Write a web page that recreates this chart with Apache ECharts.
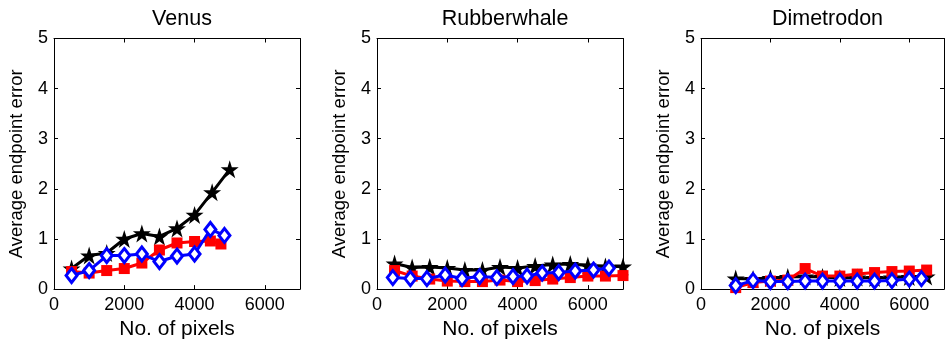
<!DOCTYPE html>
<html>
<head>
<meta charset="utf-8">
<script src="https://cdn.jsdelivr.net/npm/echarts@6/dist/echarts.min.js"></script>
<style>
html,body{margin:0;padding:0;background:#fff;}
#chart{width:948px;height:345px;}
</style>
</head>
<body>
<div id="chart"></div>
<script>
// Panel titles
const panelTitles = ['Venus', 'Rubberwhale', 'Dimetrodon'];
const xTickValues = [0, 2000, 4000, 6000];
const yTickValues = [0, 1, 2, 3, 4, 5];

// Venus
const venusBlackX = [500, 1000, 1500, 2000, 2500, 3000, 3500, 4000, 4500, 5000];
const venusBlackY = [0.41, 0.67, 0.72, 1.00, 1.11, 1.05, 1.21, 1.48, 1.93, 2.39];
const venusRedX = [500, 1000, 1500, 2000, 2500, 3000, 3500, 4000, 4450, 4750];
const venusRedY = [0.35, 0.32, 0.37, 0.41, 0.52, 0.78, 0.92, 0.95, 0.96, 0.90];
const venusBlueX = [500, 1000, 1500, 2000, 2500, 3000, 3500, 4000, 4450, 4850];
const venusBlueY = [0.27, 0.37, 0.67, 0.67, 0.70, 0.55, 0.66, 0.70, 1.19, 1.07];

// Rubberwhale
const rubBlackX = [500, 1000, 1500, 2000, 2500, 3000, 3500, 4000, 4500, 5000, 5500, 6000, 6500, 7000];
const rubBlackY = [0.51, 0.43, 0.44, 0.42, 0.38, 0.38, 0.44, 0.42, 0.46, 0.49, 0.50, 0.47, 0.45, 0.45];
const rubRedX = [500, 1000, 1500, 2000, 2500, 3000, 3500, 4000, 4500, 5000, 5500, 6000, 6500, 7000];
const rubRedY = [0.37, 0.26, 0.20, 0.16, 0.15, 0.15, 0.18, 0.15, 0.17, 0.20, 0.23, 0.26, 0.26, 0.27];
const rubBlueX = [450, 950, 1420, 1940, 2420, 2920, 3410, 3870, 4270, 4700, 5170, 5640, 6160, 6600];
const rubBlueY = [0.23, 0.21, 0.21, 0.28, 0.21, 0.25, 0.23, 0.25, 0.26, 0.32, 0.33, 0.36, 0.38, 0.42];

// Dimetrodon
const dimBlackX = [1000, 1500, 2000, 2500, 3000, 3500, 4000, 4500, 5000, 5500, 6000, 6500];
const dimBlackY = [0.21, 0.20, 0.22, 0.24, 0.25, 0.24, 0.22, 0.23, 0.22, 0.23, 0.24, 0.25];
const dimRedX = [1000, 1500, 2000, 2500, 3000, 3500, 4000, 4500, 5000, 5500, 6000, 6500];
const dimRedY = [0.03, 0.13, 0.16, 0.18, 0.41, 0.26, 0.26, 0.30, 0.33, 0.35, 0.36, 0.38];
const dimBlueX = [1000, 1500, 2000, 2500, 3000, 3500, 4000, 4500, 5000, 5500, 6000, 6350];
const dimBlueY = [0.07, 0.17, 0.15, 0.15, 0.16, 0.16, 0.16, 0.16, 0.16, 0.17, 0.20, 0.21];

const panels = [
  {black: [venusBlackX, venusBlackY], red: [venusRedX, venusRedY], blue: [venusBlueX, venusBlueY]},
  {black: [rubBlackX, rubBlackY], red: [rubRedX, rubRedY], blue: [rubBlueX, rubBlueY]},
  {black: [dimBlackX, dimBlackY], red: [dimRedX, dimRedY], blue: [dimBlueX, dimBlueY]}
];

const FONT = 'Liberation Sans, Arial, Helvetica, sans-serif';
const gridLefts = [54, 377, 701];
const gridWidths = [246, 246, 243];
const gridTop = 38.5;
const gridHeight = 252;

const STAR = 'path://M50,0 L61.2,34.5 L97.6,34.5 L68.2,55.9 L79.4,90.5 L50,69.1 L20.6,90.5 L31.8,55.9 L2.4,34.5 L38.8,34.5 Z';

function zip(xs, ys) { return xs.map((x, i) => [x, ys[i]]); }

const grids = [], xAxes = [], yAxes = [], series = [], titles = [];
for (let p = 0; p < 3; p++) {
  grids.push({left: gridLefts[p], top: gridTop, width: gridWidths[p], height: gridHeight, containLabel: false});
  titles.push({text: panelTitles[p], left: gridLefts[p] + gridWidths[p] / 2, top: 3, textAlign: 'center',
    textStyle: {fontFamily: FONT, fontSize: 21.5, fontWeight: 'normal', color: '#000'}});
  const axisCommon = {
    axisLine: {show: true, onZero: false, lineStyle: {color: '#000', width: 1}},
    axisTick: {show: true, inside: true, length: 4, lineStyle: {color: '#000'}},
    splitLine: {show: false}
  };
  xAxes.push(Object.assign({}, axisCommon, {
    type: 'value', gridIndex: p, position: 'bottom', min: 0, max: 7000, interval: 2000,
    name: 'No. of pixels', nameLocation: 'middle', nameGap: 26,
    nameTextStyle: {fontFamily: FONT, fontSize: 21, color: '#000'},
    axisLabel: {show: true, fontFamily: FONT, fontSize: 18, color: '#000', margin: 7, showMaxLabel: false,
      formatter: v => String(v)}
  }));
  xAxes.push(Object.assign({}, axisCommon, {
    type: 'value', gridIndex: p, position: 'top', min: 0, max: 7000, interval: 2000,
    axisLabel: {show: false}
  }));
  yAxes.push(Object.assign({}, axisCommon, {
    type: 'value', gridIndex: p, position: 'left', min: 0, max: 5, interval: 1,
    name: 'Average endpoint error', nameLocation: 'middle', nameGap: 28,
    nameTextStyle: {fontFamily: FONT, fontSize: 18.5, color: '#000'},
    axisLabel: {show: true, fontFamily: FONT, fontSize: 18, color: '#000', margin: 6}
  }));
  yAxes.push(Object.assign({}, axisCommon, {
    type: 'value', gridIndex: p, position: 'right', min: 0, max: 5, interval: 1,
    axisLabel: {show: false}
  }));
  const xi = p * 2, yi = p * 2;
  const d = panels[p];
  series.push({
    type: 'line', xAxisIndex: xi, yAxisIndex: yi, data: zip(d.black[0], d.black[1]),
    lineStyle: {color: '#000', width: 3}, itemStyle: {color: '#000'},
    symbol: STAR, symbolSize: 18, showAllSymbol: true, z: 2, animation: false
  });
  series.push({
    type: 'line', xAxisIndex: xi, yAxisIndex: yi, data: zip(d.red[0], d.red[1]),
    lineStyle: {color: '#ff0000', width: 3}, itemStyle: {color: '#ff0000'},
    symbol: 'rect', symbolSize: 11, showAllSymbol: true, z: 3, animation: false
  });
  series.push({
    type: 'line', xAxisIndex: xi, yAxisIndex: yi, data: zip(d.blue[0], d.blue[1]),
    lineStyle: {color: '#0000ff', width: 3},
    itemStyle: {color: '#fff', borderColor: '#0000ff', borderWidth: 3},
    symbol: 'diamond', symbolSize: [11, 14], showAllSymbol: true, z: 4, animation: false
  });
}

const chart = echarts.init(document.getElementById('chart'), null, {renderer: 'canvas'});
chart.setOption({
  backgroundColor: '#fff',
  animation: false,
  title: titles,
  grid: grids,
  xAxis: xAxes,
  yAxis: yAxes,
  series: series
});
</script>
</body>
</html>
